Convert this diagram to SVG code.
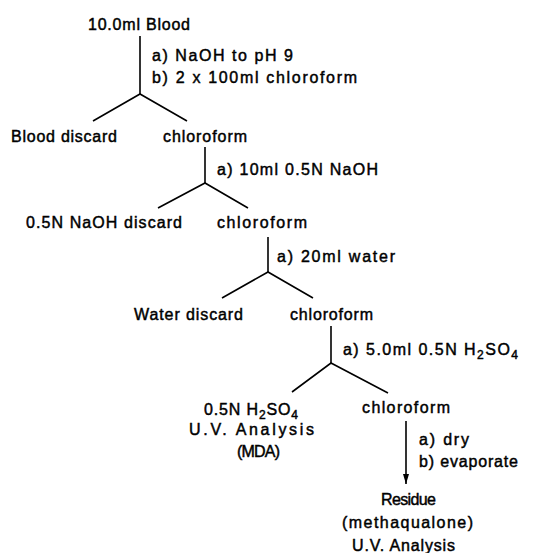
<svg xmlns="http://www.w3.org/2000/svg" width="536" height="553" viewBox="0 0 536 553">
<style>
text{font-family:"Liberation Sans",Arial,sans-serif;font-size:16px;fill:#000;stroke:#000;stroke-width:0.45;}
.ln{stroke:#000;stroke-width:1.6;fill:none;}
.sub{font-size:12px;}
</style>
<defs>
<marker id="ah" markerWidth="10" markerHeight="6" refX="10" refY="3" orient="auto" markerUnits="userSpaceOnUse" viewBox="0 0 10 6">
<path d="M0,0 L10,3 L0,6 Z" fill="#000"/>
</marker>
</defs>
<rect width="536" height="553" fill="#fff"/>
<g id="connectors">
<polyline class="ln" points="140,36 140,94"/>
<polyline class="ln" points="93,121 140,94 187,121"/>
<polyline class="ln" points="205,147 205,183"/>
<polyline class="ln" points="158,208 205,183 248,208"/>
<polyline class="ln" points="268,237 268,272"/>
<polyline class="ln" points="222,298 268,272 313,298"/>
<polyline class="ln" points="331,326 331,363"/>
<polyline class="ln" points="292,392 331,363 388,393"/>
<line class="ln" x1="406" y1="421" x2="406" y2="484" marker-end="url(#ah)"/>
</g>
<g id="labels">
<text x="152" y="61" textLength="141" lengthAdjust="spacing">a) NaOH to pH 9</text>
<text x="152" y="83" textLength="205" lengthAdjust="spacing">b) 2 x 100ml chloroform</text>
<text x="217" y="175" textLength="161" lengthAdjust="spacing">a) 10ml 0.5N NaOH</text>
<text x="277" y="262" textLength="118" lengthAdjust="spacing">a) 20ml water</text>
<text x="343" y="355" textLength="175" lengthAdjust="spacing">a) 5.0ml 0.5N H<tspan class="sub" dy="4">2</tspan><tspan dy="-4">SO</tspan><tspan class="sub" dy="4">4</tspan></text>
<text x="419" y="445" textLength="50" lengthAdjust="spacing">a) dry</text>
<text x="419" y="467" textLength="99" lengthAdjust="spacing">b) evaporate</text>
</g>
<g id="n-blood"><text x="88" y="30" textLength="102" lengthAdjust="spacing">10.0ml Blood</text></g>
<g id="n-blood-discard"><text x="11" y="142" textLength="106" lengthAdjust="spacing">Blood discard</text></g>
<g id="n-chloroform1"><text x="163" y="142" textLength="84" lengthAdjust="spacing">chloroform</text></g>
<g id="n-naoh-discard"><text x="26" y="228" textLength="156" lengthAdjust="spacing">0.5N NaOH discard</text></g>
<g id="n-chloroform2"><text x="217" y="228" textLength="90" lengthAdjust="spacing">chloroform</text></g>
<g id="n-water-discard"><text x="134" y="320" textLength="109" lengthAdjust="spacing">Water discard</text></g>
<g id="n-chloroform3"><text x="290" y="320" textLength="83" lengthAdjust="spacing">chloroform</text></g>
<g id="n-h2so4">
<text x="204" y="415" textLength="94" lengthAdjust="spacing">0.5N H<tspan class="sub" dy="4">2</tspan><tspan dy="-4">SO</tspan><tspan class="sub" dy="4">4</tspan></text>
<text x="189" y="435" textLength="125" lengthAdjust="spacing">U.V. Analysis</text>
<text x="237" y="457" textLength="43" lengthAdjust="spacing">(MDA)</text>
</g>
<g id="n-chloroform4"><text x="362" y="413" textLength="88" lengthAdjust="spacing">chloroform</text></g>
<g id="n-residue">
<text x="381" y="505" textLength="55" lengthAdjust="spacing">Residue</text>
<text x="342" y="528" textLength="131" lengthAdjust="spacing">(methaqualone)</text>
<text x="352" y="551" textLength="103" lengthAdjust="spacing">U.V. Analysis</text>
</g>
</svg>
